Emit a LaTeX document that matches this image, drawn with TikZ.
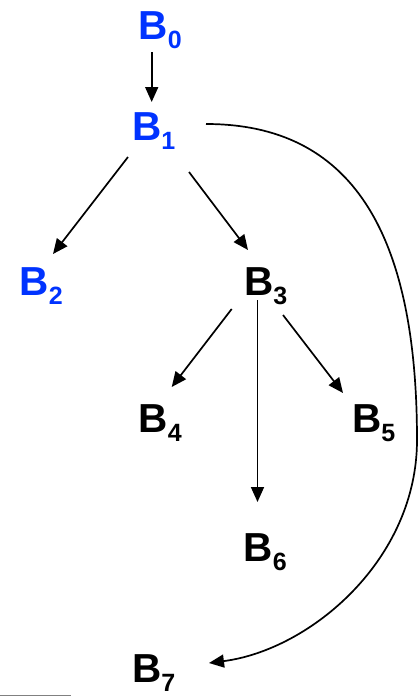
\documentclass[tikz,border=0pt]{standalone}
\usepackage{fontspec}
\setmainfont{Liberation Sans}
\usetikzlibrary{arrows.meta}
\definecolor{nodeblue}{HTML}{0033FF}
\newcommand\subs[1]{\raisebox{-9pt}{\fontsize{25}{25}\selectfont #1}}
\tikzset{
  lbl/.style={inner sep=0pt, outer sep=0pt, anchor=base west, font=\fontsize{40.5}{40.5}\selectfont\bfseries},
  blue lbl/.style={lbl, text=nodeblue},
  arr/.style={line width=1.7pt, -{Triangle[length=15pt,width=13pt]}},
}
\begin{document}
\begin{tikzpicture}[x=1pt,y=-1pt]
\useasboundingbox (0,0) rectangle (418,696);
\node[blue lbl] (b0) at (138.7,39) {B\subs{0}};
\node[blue lbl] (b1) at (132,140) {B\subs{1}};
\node[blue lbl] (b2) at (19.7,295) {B\subs{2}};
\node[lbl] (b3) at (244,295) {B\subs{3}};
\node[lbl] (b4) at (138.7,432) {B\subs{4}};
\node[lbl] (b5) at (352,432) {B\subs{5}};
\node[lbl] (b6) at (243.7,561) {B\subs{6}};
\node[lbl] (b7) at (132,682) {B\subs{7}};
\draw[arr] ([shift={(13,13)}]b0.base west) -- ([shift={(19.7,-38)}]b1.base west);
\draw[arr] ([shift={(-4,17)}]b1.base west) -- ([shift={(33.3,-41)}]b2.base west);
\draw[arr] ([shift={(57,32)}]b1.base west) -- ([shift={(4,-45)}]b3.base west);
\draw[arr] ([shift={(-12.3,14)}]b3.base west) -- ([shift={(33,-45)}]b4.base west);
\draw[arr] ([shift={(39,20)}]b3.base west) -- ([shift={(-9,-39)}]b5.base west);
\draw[arr] ([shift={(13.5,5)}]b3.base west) -- ([shift={(13.8,-59)}]b6.base west);
\draw[arr] ([shift={(74,-16)}]b1.base west) .. controls (350,124) and (417,230) .. (417,440)
  .. controls (417,560) and (310,650) .. ([shift={(77,-19)}]b7.base west);
\draw[gray, line width=1pt] (0,695.3) -- (71,695.3);
\end{tikzpicture}
\end{document}
